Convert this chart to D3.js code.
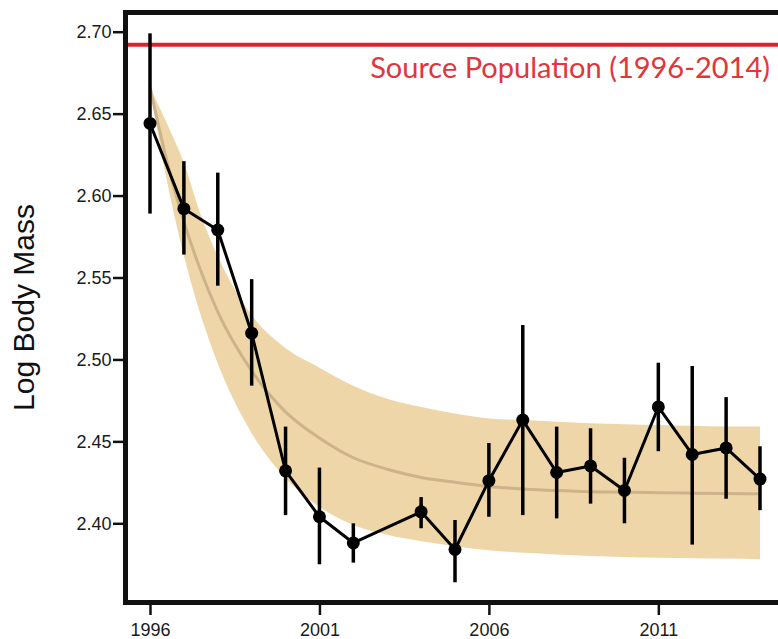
<!DOCTYPE html>
<html>
<head>
<meta charset="utf-8">
<script src="https://cdn.jsdelivr.net/npm/d3@7"></script>
<style>
  body { margin: 0; background: #fff; }
  svg { display: block; }
</style>
</head>
<body>
<svg id="chart" width="778" height="639"></svg>
<script>
// yearly means with error bars (no sample in 2003)
const years = [1996, 1997, 1998, 1999, 2000, 2001, 2002, 2004, 2005, 2006, 2007, 2008, 2009, 2010, 2011, 2012, 2013, 2014];
const means = [2.644, 2.592, 2.579, 2.516, 2.432, 2.404, 2.388, 2.407, 2.384, 2.426, 2.463, 2.431, 2.435, 2.420, 2.471, 2.442, 2.446, 2.427];
const errHigh = [2.699, 2.621, 2.614, 2.549, 2.459, 2.434, 2.400, 2.416, 2.402, 2.449, 2.521, 2.459, 2.458, 2.440, 2.498, 2.496, 2.477, 2.447];
const errLow = [2.589, 2.564, 2.545, 2.484, 2.405, 2.375, 2.376, 2.397, 2.364, 2.404, 2.405, 2.403, 2.412, 2.400, 2.444, 2.387, 2.415, 2.408];

// fitted decay curve and its band
const fitYears = [1996, 1996.5, 1997, 1997.5, 1998, 1999, 2000, 2001, 2002, 2003, 2004, 2005, 2006, 2007, 2008, 2009, 2010, 2011, 2012, 2013, 2014];
const fitMid = [2.666, 2.621, 2.584, 2.554, 2.529, 2.493, 2.468, 2.452, 2.440, 2.433, 2.428, 2.425, 2.4225, 2.421, 2.420, 2.4193, 2.419, 2.4186, 2.4184, 2.4182, 2.418];
const fitHigh = [2.666, 2.644, 2.620, 2.588, 2.563, 2.527, 2.507, 2.495, 2.484, 2.476, 2.471, 2.467, 2.464, 2.463, 2.462, 2.461, 2.4605, 2.460, 2.4595, 2.459, 2.459];
const fitLow = [2.666, 2.609, 2.5635, 2.527, 2.4975, 2.455, 2.4275, 2.410, 2.399, 2.393, 2.389, 2.386, 2.3835, 2.382, 2.381, 2.380, 2.3795, 2.379, 2.3787, 2.3785, 2.378];

const sourceValue = 2.692;
const sourceLabel = "Source Population (1996-2014)";
const yTicks = [2.40, 2.45, 2.50, 2.55, 2.60, 2.65, 2.70];
const xTicks = [1996, 2001, 2006, 2011];

const svg = d3.select("#chart");

const frameLeft = 125.5, frameTop = 12.5, frameBottom = 602.5;

var x = d3.scaleLinear().domain([1996, 2014]).range([150, 760]);
var y = d3.scaleLinear().domain([2.40, 2.70]).range([523.3, 31.7]);

// band
const fit = fitYears.map((yr, i) => ({yr: yr, mid: fitMid[i], hi: fitHigh[i], lo: fitLow[i]}));

svg.append("path")
  .datum(fit)
  .attr("fill", "#eed6a9")
  .attr("d", d3.area()
    .x(d => x(d.yr))
    .y0(d => y(d.lo))
    .y1(d => y(d.hi))
    .curve(d3.curveMonotoneX));

svg.append("path")
  .datum(fit)
  .attr("fill", "none")
  .attr("stroke", "#cdb28a")
  .attr("stroke-width", 3)
  .attr("d", d3.line()
    .x(d => x(d.yr))
    .y(d => y(d.mid))
    .curve(d3.curveMonotoneX));

// source population line
svg.append("line")
  .attr("x1", frameLeft + 2).attr("x2", 778)
  .attr("y1", y(sourceValue)).attr("y2", y(sourceValue))
  .attr("stroke", "#e3202a")
  .attr("stroke-width", 4);

var srcText = svg.append("text")
  .attr("x", 770)
  .attr("y", 78)
  .attr("text-anchor", "end")
  .attr("fill", "#e0363c")
  .attr("font-family", "Lato, 'Open Sans', sans-serif")
  .attr("font-size", 29)
  .text(sourceLabel);

// shrink the label so it fits between x=366 and x=770
var w = srcText.node().getComputedTextLength();
if (w > 404) srcText.attr("font-size", 29 * 404 / w);

// error bars
const pts = years.map((yr, i) => ({yr: yr, m: means[i], hi: errHigh[i], lo: errLow[i]}));

svg.append("g")
  .selectAll("line")
  .data(pts)
  .join("line")
  .attr("x1", d => x(d.yr)).attr("x2", d => x(d.yr))
  .attr("y1", d => y(d.hi)).attr("y2", d => y(d.lo))
  .attr("stroke", "#000")
  .attr("stroke-width", 3.5);

svg.append("path")
  .datum(pts)
  .attr("fill", "none")
  .attr("stroke", "#000")
  .attr("stroke-width", 3)
  .attr("stroke-linejoin", "round")
  .attr("d", d3.line().x(d => x(d.yr)).y(d => y(d.m)));

svg.append("g")
  .selectAll("circle")
  .data(pts)
  .join("circle")
  .attr("cx", d => x(d.yr))
  .attr("cy", d => y(d.m))
  .attr("r", 6.5)
  .attr("fill", "#000");

// frame (right side runs off the picture)
svg.append("path")
  .attr("d", `M820,${frameTop}H${frameLeft}V${frameBottom}H820`)
  .attr("fill", "none")
  .attr("stroke", "#111")
  .attr("stroke-width", 5);

// axes
var yAxis = svg.append("g")
  .attr("transform", `translate(${frameLeft},0)`)
  .call(d3.axisLeft(y).tickValues(yTicks).tickFormat(d3.format(".2f")).tickSize(12.5).tickPadding(1.5));

var xAxis = svg.append("g")
  .attr("transform", `translate(0,${frameBottom})`)
  .call(d3.axisBottom(x).tickValues(xTicks).tickFormat(d3.format("d")).tickSize(12.5).tickPadding(8));

[yAxis, xAxis].forEach(a => {
  a.select(".domain").remove();
  a.selectAll(".tick line").attr("stroke", "#111").attr("stroke-width", 2.5);
  a.selectAll(".tick text")
    .attr("fill", "#1a1a1a")
    .attr("font-family", "'Liberation Sans', Arial, sans-serif")
    .attr("font-size", 18);
});

svg.append("text")
  .attr("transform", "translate(33.5,307.5) rotate(-90)")
  .attr("text-anchor", "middle")
  .attr("fill", "#111")
  .attr("font-family", "'Liberation Sans', Arial, sans-serif")
  .attr("font-size", 30)
  .text("Log Body Mass");
</script>
</body>
</html>
